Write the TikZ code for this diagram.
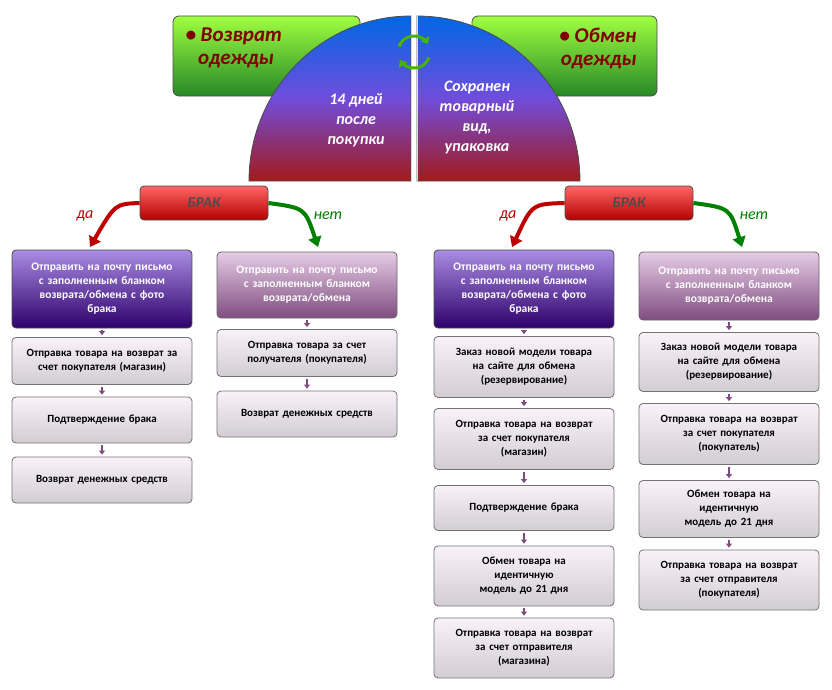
\documentclass[tikz,border=0pt]{standalone}
\usepackage{fontspec}
\setmainfont{Carlito}
\usetikzlibrary{arrows.meta,calc}
\begin{document}
\begin{tikzpicture}[x=1pt,y=-1pt,
 green/.style={draw=black!70,rounded corners=6pt,top color=green!50!yellow!75!white,bottom color=green!45!black!85,line width=0.8pt},
 brak/.style={draw=black!70,rounded corners=4pt,top color=red!60!white,bottom color=red!70!black,line width=0.8pt,text=black!70,font=\bfseries\itshape\fontsize{15}{15}\selectfont},
 pd/.style={draw=black!70,rounded corners=4pt,top color=violet!50!blue!45!white,bottom color=violet!60!blue!60!black,text=white,font=\bfseries\fontsize{11.5}{14}\selectfont,align=center,line width=0.8pt},
 pl/.style={draw=black!60,rounded corners=4pt,top color=violet!20!white,bottom color=violet!40!gray,text=white,font=\bfseries\fontsize{11.5}{14}\selectfont,align=center,line width=0.8pt},
 gr/.style={draw=black!55,rounded corners=4pt,top color=white!95!violet,bottom color=violet!12!gray!35,text=black,font=\bfseries\fontsize{11}{14}\selectfont,align=center,line width=0.8pt},
 sa/.style={-{Triangle[width=6pt,length=4pt]},line width=2.5pt,violet!40!gray},
 ca/.style={-{Triangle[width=13pt,length=10pt]},line width=4pt}]
\useasboundingbox (0,0) rectangle (832,689);
\fill[white] (0,0) rectangle (832,689);
% green boxes
\draw[green] (173,16) rectangle (360,96);
\draw[green] (472,16) rectangle (657,96);
\node[font=\bfseries\itshape\fontsize{21}{23}\selectfont,text=red!50!black,align=left,anchor=west] (gl) at (182,48) {• Возврат\\\hspace{0.6em}одежды};
\node[font=\bfseries\itshape\fontsize{21}{23}\selectfont,text=red!50!black,align=right,anchor=east] (gr2) at (640,48) {• Обмен\\одежды};
% semicircle quarters
\shade[top color=blue!55!cyan!90!black,bottom color=red!60!black!90,middle color=violet!40!blue!70!white,draw=black!70,line width=0.8pt] (411,181) -- (411,16) arc (270:180:162 and 165) -- cycle;
\shade[top color=blue!55!cyan!90!black,bottom color=red!60!black!90,middle color=violet!40!blue!70!white,draw=black!70,line width=0.8pt] (417,181) -- (417,16) arc (270:360:163 and 165) -- cycle;
\draw[line width=1pt,white!70!gray] (411,16) -- (411,181) (417,16) -- (417,181);
% cycle arrows
\coordinate (cc) at (414,52);
\draw[-{Triangle[width=10pt,length=6pt]},line width=3pt,green!60!yellow!70!black] ($(cc)+(200:16)$) arc (200:330:16);
\draw[-{Triangle[width=10pt,length=6pt]},line width=3pt,green!60!yellow!70!black] ($(cc)+(20:16)$) arc (20:150:16);
\node[text=white,font=\bfseries\itshape\fontsize{16}{20}\selectfont,align=center] (t1) at (356,120) {14 дней\\после\\покупки};
\node[text=white,font=\bfseries\itshape\fontsize{16}{20}\selectfont,align=center] (t2) at (477,118) {Сохранен\\товарный\\вид,\\упаковка};
% brak
\node[brak,minimum width=128pt,minimum height=34pt] (b1) at (204,203) {БРАК};
\node[brak,minimum width=128pt,minimum height=34pt] (b2) at (629,203) {БРАК};
\coordinate (d1) at (90,247); \coordinate (n1) at (318,247);
\coordinate (d2) at (512,247); \coordinate (n2) at (742,247);
\draw[ca,red!75!black] (b1.west) .. controls (115,204) .. (d1);
\draw[ca,green!50!black] (b1.east) .. controls (305,208) .. (n1);
\draw[ca,red!75!black] (b2.west) .. controls (532,204) .. (d2);
\draw[ca,green!50!black] (b2.east) .. controls (730,208) .. (n2);
\node[text=red!75!black,font=\itshape\fontsize{16}{16}\selectfont] (ld1) at (85,216) {да};
\node[text=green!50!black,font=\itshape\fontsize{16}{16}\selectfont] (ln1) at (328,216) {нет};
\node[text=red!75!black,font=\itshape\fontsize{16}{16}\selectfont] (ld2) at (508,216) {да};
\node[text=green!50!black,font=\itshape\fontsize{16}{16}\selectfont] (ln2) at (754,216) {нет};
% columns
\def\card#1#2#3#4#5#6{\node[#2,minimum width=180pt,minimum height=#4pt,text width=178pt,inner sep=1pt] (#1) at (#3,#5) {#6};}
\card{a0}{pd}{102}{78}{289}{Отправить на почту письмо\\с заполненным бланком\\возврата/обмена с фото\\брака}
\card{a1}{gr}{102}{47}{361}{Отправка товара на возврат за\\счет покупателя (магазин)}
\card{a2}{gr}{102}{46}{420}{Подтверждение брака}
\card{a3}{gr}{102}{46}{480}{Возврат денежных средств}
\card{b0}{pl}{307}{66}{285}{Отправить на почту письмо\\с заполненным бланком\\возврата/обмена}
\card{bb1}{gr}{307}{47}{353}{Отправка товара за счет\\получателя (покупателя)}
\card{bb2}{gr}{307}{46}{414}{Возврат денежных средств}
\card{c0}{pd}{524}{78}{289}{Отправить на почту письмо\\с заполненным бланком\\возврата/обмена с фото\\брака}
\card{c1}{gr}{524}{61}{367}{Заказ новой модели товара\\на сайте для обмена\\(резервирование)}
\card{c2}{gr}{524}{61}{439}{Отправка товара на возврат\\за счет покупателя\\(магазин)}
\card{c3}{gr}{524}{45}{508}{Подтверждение брака}
\card{c4}{gr}{524}{60}{576}{Обмен товара на\\идентичную\\модель до 21 дня}
\card{c5}{gr}{524}{60}{648}{Отправка товара на возврат\\за счет отправителя\\(магазина)}
\card{e0}{pl}{729}{68}{286}{Отправить на почту письмо\\с заполненным бланком\\возврата/обмена}
\card{e1}{gr}{729}{59}{362}{Заказ новой модели товара\\на сайте для обмена\\(резервирование)}
\card{e2}{gr}{729}{61}{434}{Отправка товара на возврат\\за счет покупателя\\(покупатель)}
\card{e3}{gr}{729}{57}{509}{Обмен товара на\\идентичную\\модель до 21 дня}
\card{e4}{gr}{729}{60}{580}{Отправка товара на возврат\\за счет отправителя\\(покупателя)}
\foreach \u/\v in {a0/a1,a1/a2,a2/a3,b0/bb1,bb1/bb2,c0/c1,c1/c2,c2/c3,c3/c4,c4/c5,e0/e1,e1/e2,e2/e3,e3/e4}
 \draw[sa] ($(\u.south)+(0,2)$) -- ($(\v.north)+(0,-2)$);
\end{tikzpicture}
\end{document}
